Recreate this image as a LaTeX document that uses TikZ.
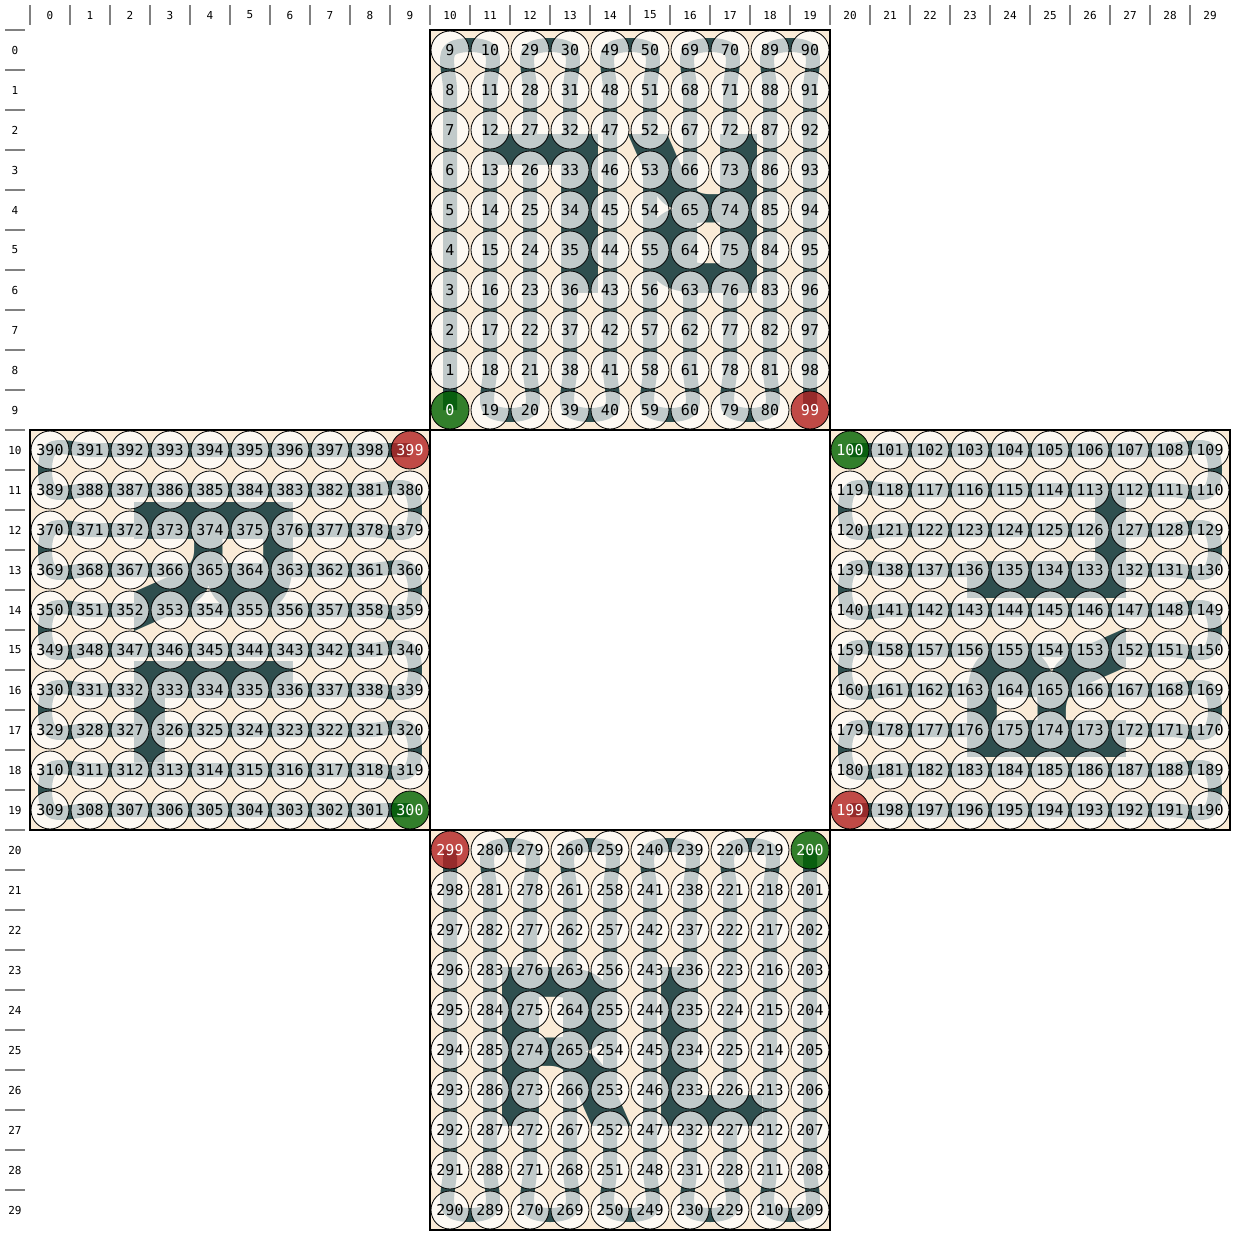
\documentclass[tikz,border=0pt]{standalone}
\usepackage{fontspec}
\setmainfont{DejaVu Sans}
\newfontfamily\cellfont{DejaVu Sans Mono}
\newfontfamily\glyphfont{DejaVu Sans}
\definecolor{beige}{HTML}{FAEBD7}
\definecolor{dslate}{HTML}{2F4F4F}
\definecolor{fgreen}{HTML}{006400}
\definecolor{fred}{HTML}{B22222}
\definecolor{bargray}{HTML}{808080}
\begin{document}
\begin{tikzpicture}[x=1pt,y=1pt,
  cell/.style={circle, minimum size=38pt, inner sep=0pt, draw=black, line width=0.8pt,
    fill=white, fill opacity=0.7, text opacity=1, text=black,
    font=\cellfont\fontsize{15}{15}\selectfont},
  pathline/.style={line width=14pt, draw=dslate, line join=round},
  blockbg/.style={fill=beige},
  blockframe/.style={draw=black, line width=2pt},
  lab/.style={font=\cellfont\fontsize{11}{11}\selectfont, inner sep=0pt, text=black},
  bar/.style={draw=bargray, line width=2pt},
  glyph/.style={font=\glyphfont\bfseries\fontsize{218}{218}\selectfont, text=dslate,
    inner sep=0pt, anchor=base west},
]
\useasboundingbox (0,0) rectangle (1235,-1235);

% ---- cell centres, in path order ----
\foreach \m in {0,...,99}{
  \pgfmathtruncatemacro\cc{div(\m,10)}
  \pgfmathtruncatemacro\kk{mod(\m,10)}
  \pgfmathtruncatemacro\rr{mod(\cc,2)==1 ? \kk : 9-\kk}
  \coordinate (p-\m) at ({450+40*\cc},{-50-40*\rr});
}
\foreach \m in {0,...,99}{
  \pgfmathtruncatemacro\N{100+\m}
  \pgfmathtruncatemacro\rr{div(\m,10)}
  \pgfmathtruncatemacro\kk{mod(\m,10)}
  \pgfmathtruncatemacro\cc{mod(\rr,2)==1 ? 9-\kk : \kk}
  \coordinate (p-\N) at ({850+40*\cc},{-450-40*\rr});
}
\foreach \m in {0,...,99}{
  \pgfmathtruncatemacro\N{200+\m}
  \pgfmathtruncatemacro\kc{div(\m,10)}
  \pgfmathtruncatemacro\kk{mod(\m,10)}
  \pgfmathtruncatemacro\rr{mod(\kc,2)==1 ? 9-\kk : \kk}
  \coordinate (p-\N) at ({450+40*(9-\kc)},{-850-40*\rr});
}
\foreach \m in {0,...,99}{
  \pgfmathtruncatemacro\N{300+\m}
  \pgfmathtruncatemacro\kr{div(\m,10)}
  \pgfmathtruncatemacro\kk{mod(\m,10)}
  \pgfmathtruncatemacro\cc{mod(\kr,2)==1 ? \kk : 9-\kk}
  \coordinate (p-\N) at ({50+40*\cc},{-450-40*(9-\kr)});
}

% ---- block backgrounds ----
\path[blockbg] (430,-30) rectangle (830,-430);
\path[blockbg] (830,-430) rectangle (1230,-830);
\path[blockbg] (430,-830) rectangle (830,-1230);
\path[blockbg] (30,-430) rectangle (430,-830);

% ---- RL glyphs ----
\foreach \bx/\by/\ang/\tg in {630/-1030/0/b, 630/-230/180/t, 230/-630/-90/l, 1030/-630/90/r}{
  \begin{scope}[shift={(\bx,\by)}, rotate=\ang, transform shape]
    \begin{scope}[shift={(-146,-96)}, xscale=0.9]
      \node[glyph] (R-\tg) at (0,0) {R};
    \end{scope}
    \begin{scope}[shift={(13,-96)}, xscale=0.9]
      \node[glyph] (L-\tg) at (0,0) {L};
    \end{scope}
  \end{scope}
}

% ---- serpentine paths ----
\foreach \b in {0,100,200,300}{
  \gdef\plist{}
  \foreach \m in {0,...,99}{
    \pgfmathtruncatemacro\N{\b+\m}
    \xdef\plist{\plist (p-\N)}
  }
  \edef\tmp{\noexpand\draw[pathline] plot[smooth, tension=0.6] coordinates {\plist};}
  \tmp
}

% ---- cells ----
\foreach \N in {0,...,399}{
  \pgfmathtruncatemacro\mm{mod(\N,100)}
  \ifnum\mm=0 \def\fc{fgreen}\def\fo{0.8}\def\tc{white}%
  \else\ifnum\mm=99 \def\fc{fred}\def\fo{0.8}\def\tc{white}%
  \else\def\fc{white}\def\fo{0.7}\def\tc{black}\fi\fi
  \node[cell, fill=\fc, fill opacity=\fo, text=\tc] (n-\N) at (p-\N) {\N};
}

% ---- frames ----
\draw[blockframe] (430,-30) rectangle (830,-430);
\draw[blockframe] (830,-430) rectangle (1230,-830);
\draw[blockframe] (430,-830) rectangle (830,-1230);
\draw[blockframe] (30,-430) rectangle (430,-830);

% ---- axis labels ----
\foreach \c in {0,...,29}{
  \node[lab] (col-\c) at ({50+40*\c},-15) {\c};
  \draw[bar] ({30+40*\c},-5) -- ({30+40*\c},-25);
  \node[lab] (row-\c) at (15,{-50-40*\c}) {\c};
  \draw[bar] (5,{-30-40*\c}) -- (25,{-30-40*\c});
}
\end{tikzpicture}
\end{document}
